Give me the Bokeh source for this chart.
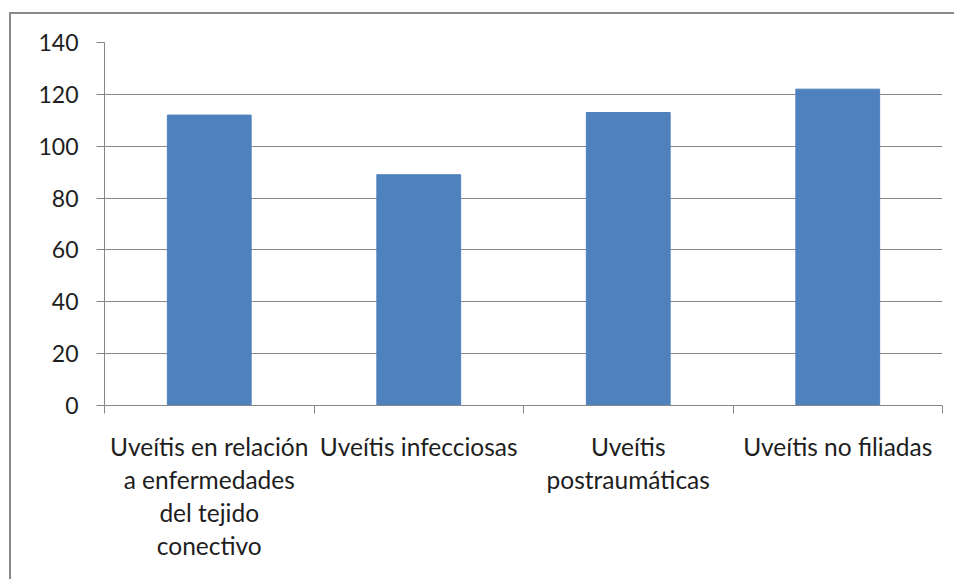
from bokeh.plotting import figure
from bokeh.models import LinearAxis, Range1d, FixedTicker, ColumnDataSource
from bokeh.embed import file_html
from bokeh.resources import INLINE

categories = [
    "Uveítis en relación\na enfermedades\ndel tejido\nconectivo",
    "Uveítis infecciosas",
    "Uveítis\npostraumáticas",
    "Uveítis no filiadas",
]
values = [112, 89, 113, 122]
y_ticks = [0, 20, 40, 60, 80, 100, 120, 140]

GRAY = "#868686"
TEXT = "#1e1e1e"
FONT = "Lato"

n = len(categories)
centers = [i + 0.5 for i in range(n)]
src = ColumnDataSource(data=dict(x=centers, val=values))

p = figure(
    x_range=Range1d(0, n), y_range=Range1d(0, 140),
    width=945, height=567,
    output_backend="svg", toolbar_location=None,
    x_axis_location=None, y_axis_location=None,
    min_border_left=93, min_border_top=28, min_border_right=14, min_border_bottom=176,
)
p.styles = {"border-top": "2px solid #8a8a8a", "border-left": "2px solid #8a8a8a",
            "margin-top": "12px", "margin-left": "9px"}
p.outline_line_color = None
p.background_fill_color = "white"

p.vbar(x="x", top="val", width=0.4, source=src, fill_color="#4F81BD", line_color="#4F81BD")

# y axis
yax = LinearAxis(ticker=FixedTicker(ticks=y_ticks))
yax.axis_line_color = GRAY
yax.major_tick_line_color = GRAY
yax.major_tick_out = 8
yax.major_tick_in = 0
yax.minor_tick_line_color = None
yax.major_label_standoff = 18
yax.major_label_text_font = FONT
yax.major_label_text_font_size = "23px"
yax.major_label_text_color = TEXT
p.add_layout(yax, "left")

# x axis: ticks at category boundaries
bounds = list(range(n + 1))
bax = LinearAxis(ticker=FixedTicker(ticks=bounds))
bax.major_label_overrides = {b: "" for b in bounds}
bax.axis_line_color = GRAY
bax.major_tick_line_color = GRAY
bax.major_tick_out = 8
bax.major_tick_in = 0
bax.minor_tick_line_color = None
bax.major_label_standoff = 0
p.add_layout(bax, "below")

# x axis: category labels at centres
xax = LinearAxis(ticker=FixedTicker(ticks=centers))
xax.major_label_overrides = {c: lab for c, lab in zip(centers, categories)}
xax.axis_line_color = None
xax.major_tick_line_color = None
xax.minor_tick_line_color = None
xax.major_label_standoff = 12
xax.major_label_text_font = FONT
xax.major_label_text_font_size = "24.5px"
xax.major_label_text_color = TEXT
xax.major_label_text_line_height = 1.14
p.add_layout(xax, "below")

p.ygrid.ticker = FixedTicker(ticks=y_ticks)
p.ygrid.grid_line_color = GRAY
p.xgrid.grid_line_color = None

open("out.html", "w").write(file_html(p, INLINE))
